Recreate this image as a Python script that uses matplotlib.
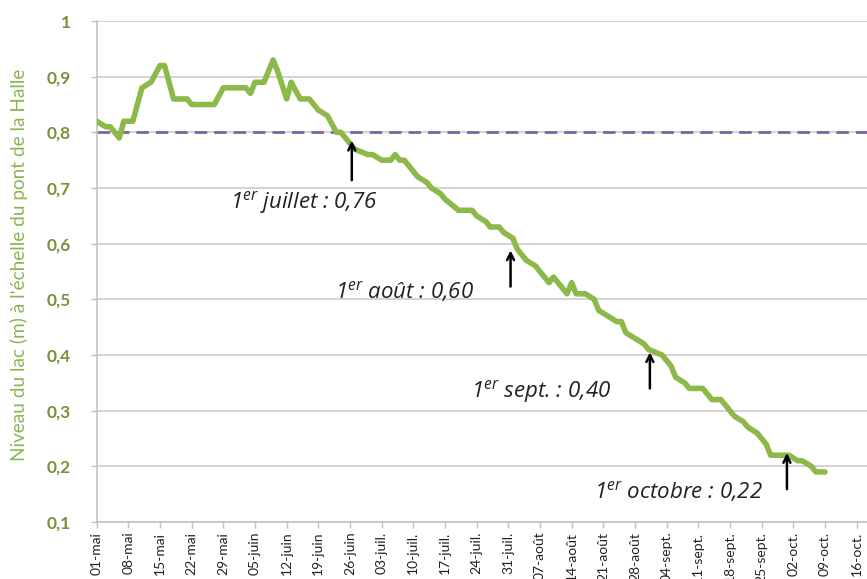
import numpy as np
import matplotlib
matplotlib.use("Agg")
import matplotlib.pyplot as plt

plt.rcParams["font.family"] = ["Lato", "DejaVu Sans"]
plt.rcParams["mathtext.fontset"] = "custom"
plt.rcParams["mathtext.rm"] = "Open Sans:italic"
plt.rcParams["mathtext.it"] = "Open Sans:italic"

# jours comptés depuis le 1er mai
jours = [0, 2, 3, 5, 6, 8, 10, 12, 14, 15, 17, 20, 21, 26, 28, 33, 34, 35, 37,
         39, 40, 42, 43, 45, 47, 49, 51, 53, 54, 56, 57, 60, 61, 63, 65, 66, 67,
         68, 70, 71, 73, 74, 76, 77, 80, 83, 84, 86, 87, 89, 90, 92, 93, 95, 97,
         98, 100, 101, 102, 104, 105, 106, 108, 110, 111, 113, 115, 116, 117,
         119, 121, 122, 125, 127, 128, 130, 131, 134, 135, 136, 138, 140, 141,
         143, 144, 146, 147, 148, 149, 153, 155, 156, 158, 159, 161]
niveau = [0.82, 0.81, 0.81, 0.79, 0.82, 0.82, 0.88, 0.89, 0.92, 0.92, 0.86,
          0.86, 0.85, 0.85, 0.88, 0.88, 0.87, 0.89, 0.89, 0.93, 0.91, 0.86,
          0.89, 0.86, 0.86, 0.84, 0.83, 0.80, 0.80, 0.78, 0.77, 0.76, 0.76,
          0.75, 0.75, 0.76, 0.75, 0.75, 0.73, 0.72, 0.71, 0.70, 0.69, 0.68,
          0.66, 0.66, 0.65, 0.64, 0.63, 0.63, 0.62, 0.61, 0.59, 0.57, 0.56,
          0.55, 0.53, 0.54, 0.53, 0.51, 0.53, 0.51, 0.51, 0.50, 0.48, 0.47,
          0.46, 0.46, 0.44, 0.43, 0.42, 0.41, 0.40, 0.38, 0.36, 0.35, 0.34,
          0.34, 0.33, 0.32, 0.32, 0.30, 0.29, 0.28, 0.27, 0.26, 0.25, 0.24,
          0.22, 0.22, 0.21, 0.21, 0.20, 0.19, 0.19]

seuil = 0.8

tick_jours = list(range(0, 169, 7))
tick_labels = ["01-mai", "08-mai", "15-mai", "22-mai", "29-mai", "05-juin",
               "12-juin", "19-juin", "26-juin", "03-juil.", "10-juil.",
               "17-juil.", "24-juil.", "31-juil.", "07-août", "14-août",
               "21-août", "28-août", "04-sept.", "11-sept.", "18-sept.",
               "25-sept.", "02-oct.", "09-oct.", "16-oct."]

# (texte, position du texte, pointe de la flèche, queue de la flèche)
annotations = [
    (r"$1^{er}$ juillet : 0,76", (45.8, 0.673), (56.4, 0.785), (56.4, 0.714)),
    (r"$1^{er}$ août : 0,60", (68.1, 0.514), (91.5, 0.588), (91.5, 0.523)),
    (r"$1^{er}$ sept. : 0,40", (98.2, 0.334), (122.3, 0.405), (122.3, 0.340)),
    (r"$1^{er}$ octobre : 0,22", (128.5, 0.154), (152.6, 0.224), (152.6, 0.159)),
]

line_color = "#8DB84A"
dash_color = "#8064A2"
tick_green = "#77933C"
label_green = "#8DB453"
grid_color = "#C8C8C8"

fig = plt.figure(figsize=(8.67, 5.79), dpi=100)
ax = fig.add_axes([0.1115, 0.0984, 0.8885, 0.8653])

ax.set_xlim(0, 170.3)
ax.set_ylim(0.1, 1.0)

ax.axhline(seuil, color=dash_color, lw=2.0, ls=(0, (4.5, 2.5)), zorder=2)
ax.plot(jours, niveau, color=line_color, lw=4.0, solid_joinstyle="round",
        solid_capstyle="round", zorder=3)

for text, xy_text, tip, tail in annotations:
    ax.text(xy_text[0], xy_text[1], text, ha="center", va="center",
            fontsize=16, family="Open Sans", style="italic", color="#222222")
    ax.annotate("", xy=tip, xytext=tail,
                arrowprops=dict(arrowstyle="->,head_length=0.5,head_width=0.25",
                                color="black", lw=1.8, shrinkA=0, shrinkB=0))

ax.set_yticks(np.arange(0.1, 1.01, 0.1))
ax.set_yticklabels(["0,1", "0,2", "0,3", "0,4", "0,5", "0,6", "0,7", "0,8",
                    "0,9", "1"])
ax.set_xticks(tick_jours)
ax.set_xticklabels(tick_labels, rotation=90, fontsize=10, color="#222222",
                   va="top", ha="center")

for lab in ax.get_yticklabels():
    lab.set_fontweight("bold")
    lab.set_color(tick_green)
    lab.set_fontsize(12.5)

ax.tick_params(axis="y", length=4.5, width=1, color="#BFBFBF", pad=14)
ax.tick_params(axis="x", length=4, width=1, color="#BFBFBF", pad=3)

ax.grid(axis="y", color=grid_color, lw=1.1)
ax.set_axisbelow(True)
for side in ["top", "right"]:
    ax.spines[side].set_visible(False)
for side in ["left", "bottom"]:
    ax.spines[side].set_color("#BFBFBF")
    ax.spines[side].set_linewidth(1.1)

fig.text(0.022, 0.542, "Niveau du lac (m) à l'échelle du pont de la Halle",
         rotation=90, ha="center", va="center", fontsize=13.7,
         color=label_green)

fig.savefig("out.png", dpi=100)
